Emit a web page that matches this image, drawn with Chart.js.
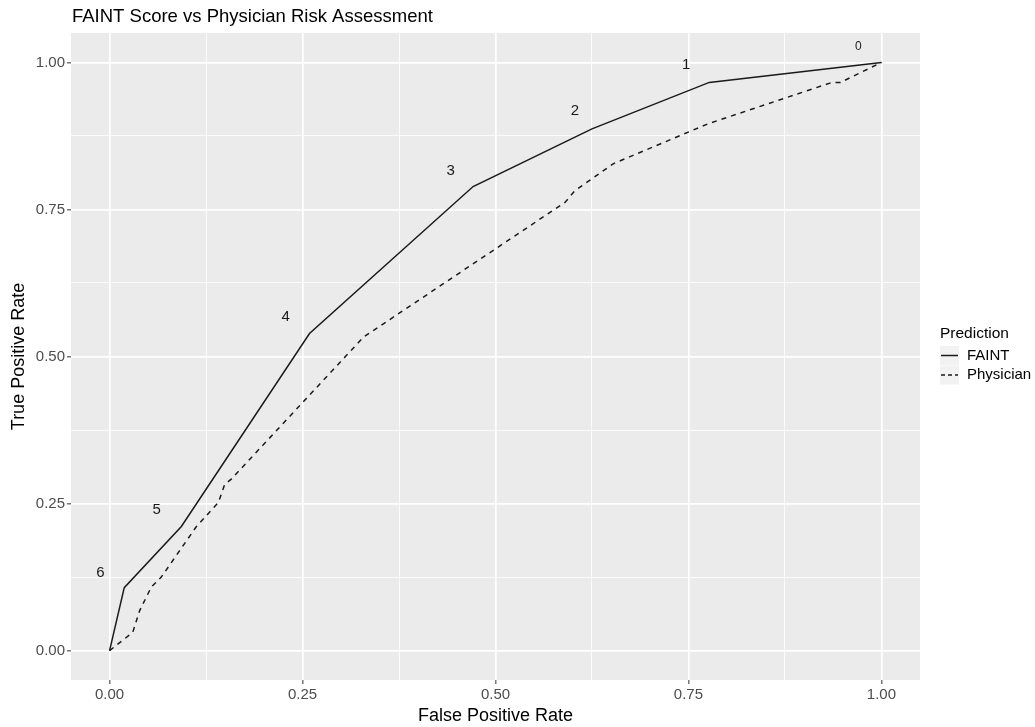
<!DOCTYPE html>
<html>
<head>
<meta charset="utf-8">
<script src="https://cdn.jsdelivr.net/npm/chart.js@4.4.1/dist/chart.umd.min.js"></script>
<style>
  html, body { margin: 0; padding: 0; background: #ffffff; }
  #wrap { width: 1035px; height: 727px; }
</style>
</head>
<body>
<div id="wrap"><canvas id="roc" width="1035" height="727"></canvas></div>
<script>
const FONT = '"Liberation Sans", Arial, Helvetica, sans-serif';

// ROC curves
const faintFpr = [0, 0.019, 0.093, 0.259, 0.471, 0.625, 0.777, 1];
const faintTpr = [0, 0.107, 0.211, 0.539, 0.789, 0.887, 0.966, 1];

const physFpr = [0, 0.030, 0.039, 0.054, 0.067, 0.112, 0.141, 0.149, 0.158, 0.307, 0.329, 0.590, 0.603, 0.653, 0.776, 0.936, 0.947, 1];
const physTpr = [0, 0.031, 0.068, 0.108, 0.125, 0.210, 0.252, 0.282, 0.292, 0.502, 0.533, 0.762, 0.782, 0.828, 0.896, 0.966, 0.966, 1];

// FAINT score thresholds written next to the curve
const scoreLabels = ['6', '5', '4', '3', '2', '1', '0'];
const scoreFpr = [-0.012, 0.061, 0.228, 0.442, 0.603, 0.747, 0.970];
const scoreTpr = [0.133, 0.240, 0.568, 0.816, 0.917, 0.995, 1.027];

const axisTicks = [0, 0.125, 0.25, 0.375, 0.5, 0.625, 0.75, 0.875, 1];
const seriesNames = ['FAINT', 'Physician'];

const toPoints = (xs, ys) => xs.map((x, i) => ({ x: x, y: ys[i] }));
const isMajor = (v) => Math.abs(v * 4 - Math.round(v * 4)) < 1e-6;

const panelBg = {
  id: 'panelBg',
  beforeDraw(chart) {
    const { ctx, chartArea: a } = chart;
    ctx.save();
    ctx.fillStyle = '#ffffff';
    ctx.fillRect(0, 0, chart.width, chart.height);
    ctx.fillStyle = '#EBEBEB';
    ctx.fillRect(a.left, a.top, a.right - a.left, a.bottom - a.top);
    ctx.restore();
  },
};

const extras = {
  id: 'extras',
  afterDatasetsDraw(chart) {
    const { ctx, scales } = chart;
    ctx.save();
    // score labels
    ctx.fillStyle = '#1a1a1a';
    ctx.textAlign = 'center';
    ctx.textBaseline = 'middle';
    scoreLabels.forEach((lab, i) => {
      ctx.font = (lab === '0' ? '12px ' : '15px ') + FONT;
      ctx.fillText(lab, scales.x.getPixelForValue(scoreFpr[i]), scales.y.getPixelForValue(scoreTpr[i]));
    });

    // title
    ctx.textAlign = 'left';
    ctx.fillStyle = '#000000';
    ctx.font = '18.5px ' + FONT;
    ctx.fillText('FAINT Score vs Physician Risk Assessment', 72, 17);

    // legend
    const lx = 940;
    ctx.font = '15.5px ' + FONT;
    ctx.fillText('Prediction', lx, 334);
    seriesNames.forEach((name, i) => {
      const top = 346 + i * 19.5;
      ctx.fillStyle = '#F2F2F2';
      ctx.fillRect(lx, top, 19, 19);
      ctx.strokeStyle = '#1a1a1a';
      ctx.lineWidth = 1.5;
      ctx.setLineDash(i === 0 ? [] : [4, 3]);
      ctx.beginPath();
      ctx.moveTo(lx + 1, top + 9.5);
      ctx.lineTo(lx + 18, top + 9.5);
      ctx.stroke();
      ctx.setLineDash([]);
      ctx.fillStyle = '#000000';
      ctx.font = '15px ' + FONT;
      ctx.fillText(name, lx + 27, top + 9.5);
    });
    ctx.restore();
  },
};

const axisOpts = (title, pad) => ({
  type: 'linear',
  min: -0.05,
  max: 1.05,
  afterBuildTicks: (scale) => {
    scale.ticks = axisTicks.map((v) => ({ value: v }));
  },
  grid: {
    color: '#ffffff',
    lineWidth: (c) => (c.tick && isMajor(c.tick.value) ? 1.7 : 0.8),
    tickColor: (c) => (c.tick && isMajor(c.tick.value) ? '#333333' : 'rgba(0,0,0,0)'),
    tickLength: 4,
    tickWidth: 1,
  },
  border: { display: false },
  ticks: {
    color: '#4D4D4D',
    font: { family: FONT, size: 15 },
    padding: 2,
    autoSkip: false,
    maxRotation: 0,
    callback: (v) => (isMajor(v) ? v.toFixed(2) : ''),
  },
  title: {
    display: true,
    text: title,
    color: '#000000',
    font: { family: FONT, size: 18 },
    padding: pad,
  },
});

const xAxis = axisOpts('False Positive Rate', { top: 2, bottom: 0 });
xAxis.afterFit = (scale) => { scale.height = 47; };
const yAxis = axisOpts('True Positive Rate', { top: 8, bottom: 2 });
yAxis.afterFit = (scale) => { scale.width = 71; };

new Chart(document.getElementById('roc').getContext('2d'), {
  type: 'scatter',
  data: {
    datasets: [
      {
        label: seriesNames[0],
        data: toPoints(faintFpr, faintTpr),
        showLine: true,
        borderColor: '#1a1a1a',
        borderWidth: 1.5,
        pointRadius: 0,
        tension: 0,
      },
      {
        label: seriesNames[1],
        data: toPoints(physFpr, physTpr),
        showLine: true,
        borderColor: '#1a1a1a',
        borderWidth: 1.5,
        borderDash: [5, 5],
        pointRadius: 0,
        tension: 0,
      },
    ],
  },
  options: {
    responsive: false,
    animation: false,
    devicePixelRatio: 1,
    layout: { padding: { left: 0, top: 33, right: 115, bottom: 0 } },
    plugins: {
      legend: { display: false },
      tooltip: { enabled: false },
    },
    scales: { x: xAxis, y: yAxis },
  },
  plugins: [panelBg, extras],
});
</script>
</body>
</html>
